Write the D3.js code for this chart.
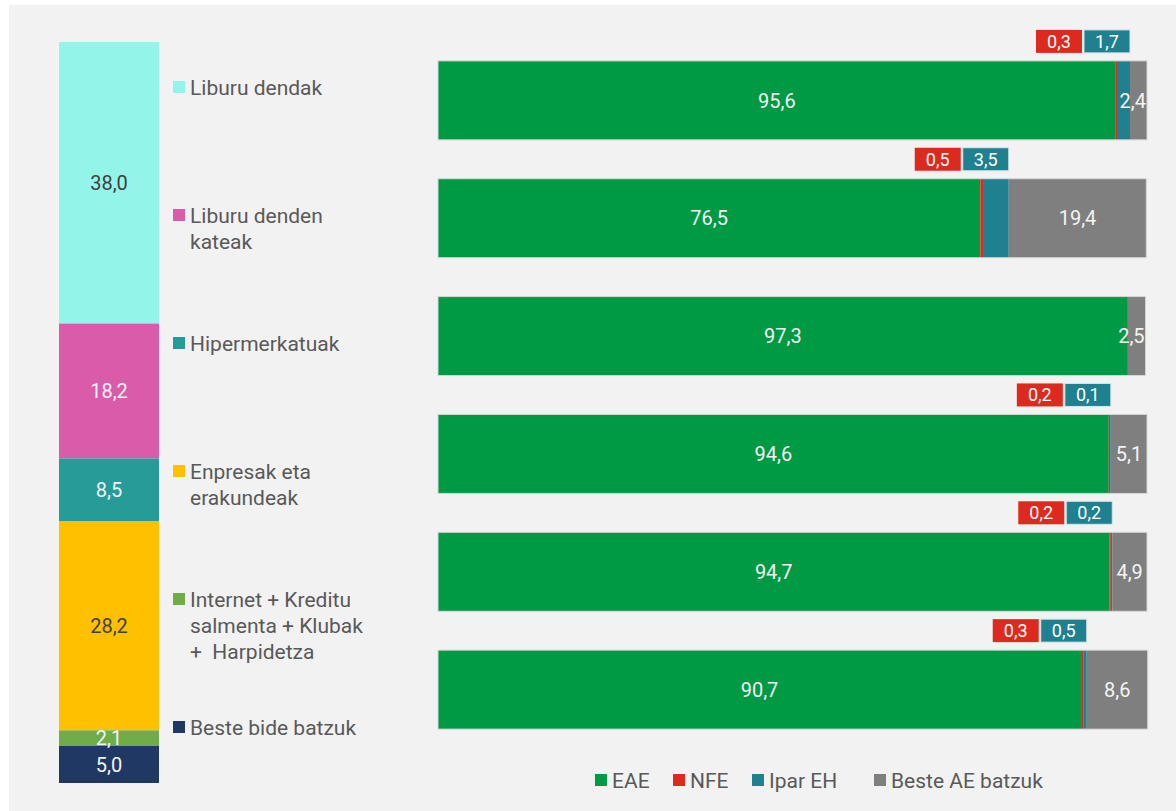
<!DOCTYPE html>
<html>
<head>
<meta charset="utf-8">
<script src="https://cdn.jsdelivr.net/npm/d3@7"></script>
<style>
  body { margin: 0; background: #ffffff; }
  svg text { font-family: Roboto, "Noto Sans", sans-serif; white-space: pre; }
</style>
</head>
<body>
<svg id="chart" width="1176" height="811"></svg>
<script>
// left column: share of each sales channel
var channels = ["Liburu dendak", "Liburu denden kateak", "Hipermerkatuak", "Enpresak eta erakundeak",
    "Internet + Kreditu salmenta + Klubak +  Harpidetza", "Beste bide batzuk"];
var channelLines = [["Liburu dendak"], ["Liburu denden", "kateak"], ["Hipermerkatuak"],
    ["Enpresak eta", "erakundeak"], ["Internet + Kreditu", "salmenta + Klubak", "+  Harpidetza"], ["Beste bide batzuk"]];
var channelShare = [38.0, 18.2, 8.5, 28.2, 2.1, 5.0];
var channelColors = ["#93f5ea", "#d95ba9", "#269c99", "#ffc000", "#70ad47", "#203864"];
var channelTextColors = ["#404040", "#f4f4f4", "#f4f4f4", "#404040", "#f4f4f4", "#f4f4f4"];

// right: origin of the books per channel
var origins = ["EAE", "NFE", "Ipar EH", "Beste AE batzuk"];
var originColors = ["#009944", "#dc2a1f", "#1f818f", "#7f7f7f"];
var eae   = [95.6, 76.5, 97.3, 94.6, 94.7, 90.7];
var nfe   = [0.3, 0.5, null, 0.2, 0.2, 0.3];
var ipar  = [1.7, 3.5, null, 0.1, 0.2, 0.5];
var beste = [2.4, 19.4, 2.5, 5.1, 4.9, 8.6];

var fmt = function(v) { return v.toFixed(1).replace(".", ","); };
var textCol = "#595959";
var legendFont = "21px";

var svg = d3.select("#chart");

svg.append("rect")
    .attr("x", 9).attr("y", 5)
    .attr("width", 1176 - 9).attr("height", 811 - 5)
    .attr("fill", "#f2f2f2");

// ---- left stacked column ----
var yLeft = d3.scaleLinear().domain([0, 100]).range([42, 783]);
var cum = 0;
var leftSegs = channelShare.map(function(v, i) {
    var s = {start: cum, end: cum + v, value: v, i: i};
    cum += v;
    return s;
});

var left = svg.append("g");
left.selectAll("rect").data(leftSegs).enter().append("rect")
    .attr("x", 59).attr("width", 100)
    .attr("y", function(d) { return yLeft(d.start); })
    .attr("height", function(d) { return yLeft(d.end) - yLeft(d.start); })
    .attr("fill", function(d) { return channelColors[d.i]; });

left.selectAll("text").data(leftSegs).enter().append("text")
    .attr("x", 109)
    .attr("y", function(d) { return (yLeft(d.start) + yLeft(d.end)) / 2; })
    .attr("dy", "0.36em")
    .attr("text-anchor", "middle")
    .attr("font-size", "20px")
    .attr("fill", function(d) { return channelTextColors[d.i]; })
    .text(function(d) { return fmt(d.value); });

// channel legend
var leg = svg.append("g");
channels.forEach(function(c, i) {
    var cy = 87 + i * 128;
    leg.append("rect")
        .attr("x", 173).attr("y", cy - 6)
        .attr("width", 12).attr("height", 12)
        .attr("fill", channelColors[i]);
    var t = leg.append("text")
        .attr("x", 190).attr("y", cy)
        .attr("font-size", legendFont)
        .attr("fill", textCol);
    channelLines[i].forEach(function(line, j) {
        t.append("tspan").attr("x", 190).attr("dy", j === 0 ? "0.36em" : "1.24em").text(line);
    });
});

// ---- right stacked bars ----
var x = d3.scaleLinear().domain([0, 100]).range([438, 1147]);
var y = d3.scaleBand().domain(d3.range(eae.length)).range([22, 768])
    .paddingInner(0.33).paddingOuter(0.33);

var rows = eae.map(function(v, i) {
    var vals = [eae[i], nfe[i], ipar[i], beste[i]];
    var c = 0;
    var segs = vals.map(function(val, k) {
        var s = {start: c, end: c + (val || 0), value: val, k: k, row: i};
        c += (val || 0);
        return s;
    });
    return {i: i, segs: segs, total: c};
});

var bars = svg.selectAll(".bar").data(rows).enter().append("g").attr("class", "bar");

bars.selectAll("rect.seg").data(function(d) { return d.segs; }).enter().append("rect")
    .attr("class", "seg")
    .attr("x", function(d) { return x(d.start); })
    .attr("y", function(d) { return y(d.row); })
    .attr("width", function(d) { return x(d.end) - x(d.start); })
    .attr("height", y.bandwidth())
    .attr("fill", function(d) { return originColors[d.k]; });

bars.append("rect")
    .attr("x", x(0))
    .attr("y", function(d) { return y(d.i); })
    .attr("width", function(d) { return x(d.total) - x(0); })
    .attr("height", y.bandwidth())
    .attr("fill", "none")
    .attr("stroke", "#d6d6d6")
    .attr("stroke-width", 1);

// in-bar labels for EAE and the rest of the EU
bars.selectAll("text.in").data(function(d) { return [d.segs[0], d.segs[3]]; }).enter().append("text")
    .attr("class", "in")
    .attr("x", function(d) { return (x(d.start) + x(d.end)) / 2; })
    .attr("y", function(d) { return y(d.row) + y.bandwidth() / 2; })
    .attr("dy", "0.36em")
    .attr("text-anchor", "middle")
    .attr("font-size", "20px")
    .attr("fill", "#f4f4f4")
    .text(function(d) { return fmt(d.value); })
    .each(function(d) {
        // keep narrow labels inside the bar end
        var w = this.getComputedTextLength();
        var edge = x(rows[d.row].total) - 1;
        if ((x(d.start) + x(d.end)) / 2 + w / 2 > edge) {
            d3.select(this).attr("text-anchor", "end").attr("x", edge);
        }
    });

// call-out boxes above the bars for NFE and Ipar EH
var boxW = 46, boxH = 23, boxGap = 2;
bars.each(function(d) {
    if (d.segs[1].value == null) return;
    var g = d3.select(this);
    var right = x(d.segs[2].end);
    var top = y(d.i) - 8 - boxH;
    [d.segs[1], d.segs[2]].forEach(function(s, j) {
        var bx = j === 0 ? right - 2 * boxW - boxGap : right - boxW;
        g.append("rect")
            .attr("x", bx).attr("y", top)
            .attr("width", boxW).attr("height", boxH)
            .attr("fill", originColors[s.k])
            .attr("stroke", j === 1 ? "#d6e6e8" : "none")
            .attr("stroke-width", 1);
        g.append("text")
            .attr("x", bx + boxW / 2).attr("y", top + boxH / 2)
            .attr("dy", "0.36em")
            .attr("text-anchor", "middle")
            .attr("font-size", "18px")
            .attr("fill", "#ffffff")
            .text(fmt(s.value));
    });
});

// origin legend at the bottom
var legendX = [595, 673, 752, 874];
var bl = svg.append("g");
origins.forEach(function(o, i) {
    bl.append("rect")
        .attr("x", legendX[i]).attr("y", 774)
        .attr("width", 12).attr("height", 12)
        .attr("fill", originColors[i]);
    bl.append("text")
        .attr("x", legendX[i] + 17).attr("y", 780)
        .attr("dy", "0.36em")
        .attr("font-size", legendFont)
        .attr("fill", textCol)
        .text(o);
});
</script>
</body>
</html>
